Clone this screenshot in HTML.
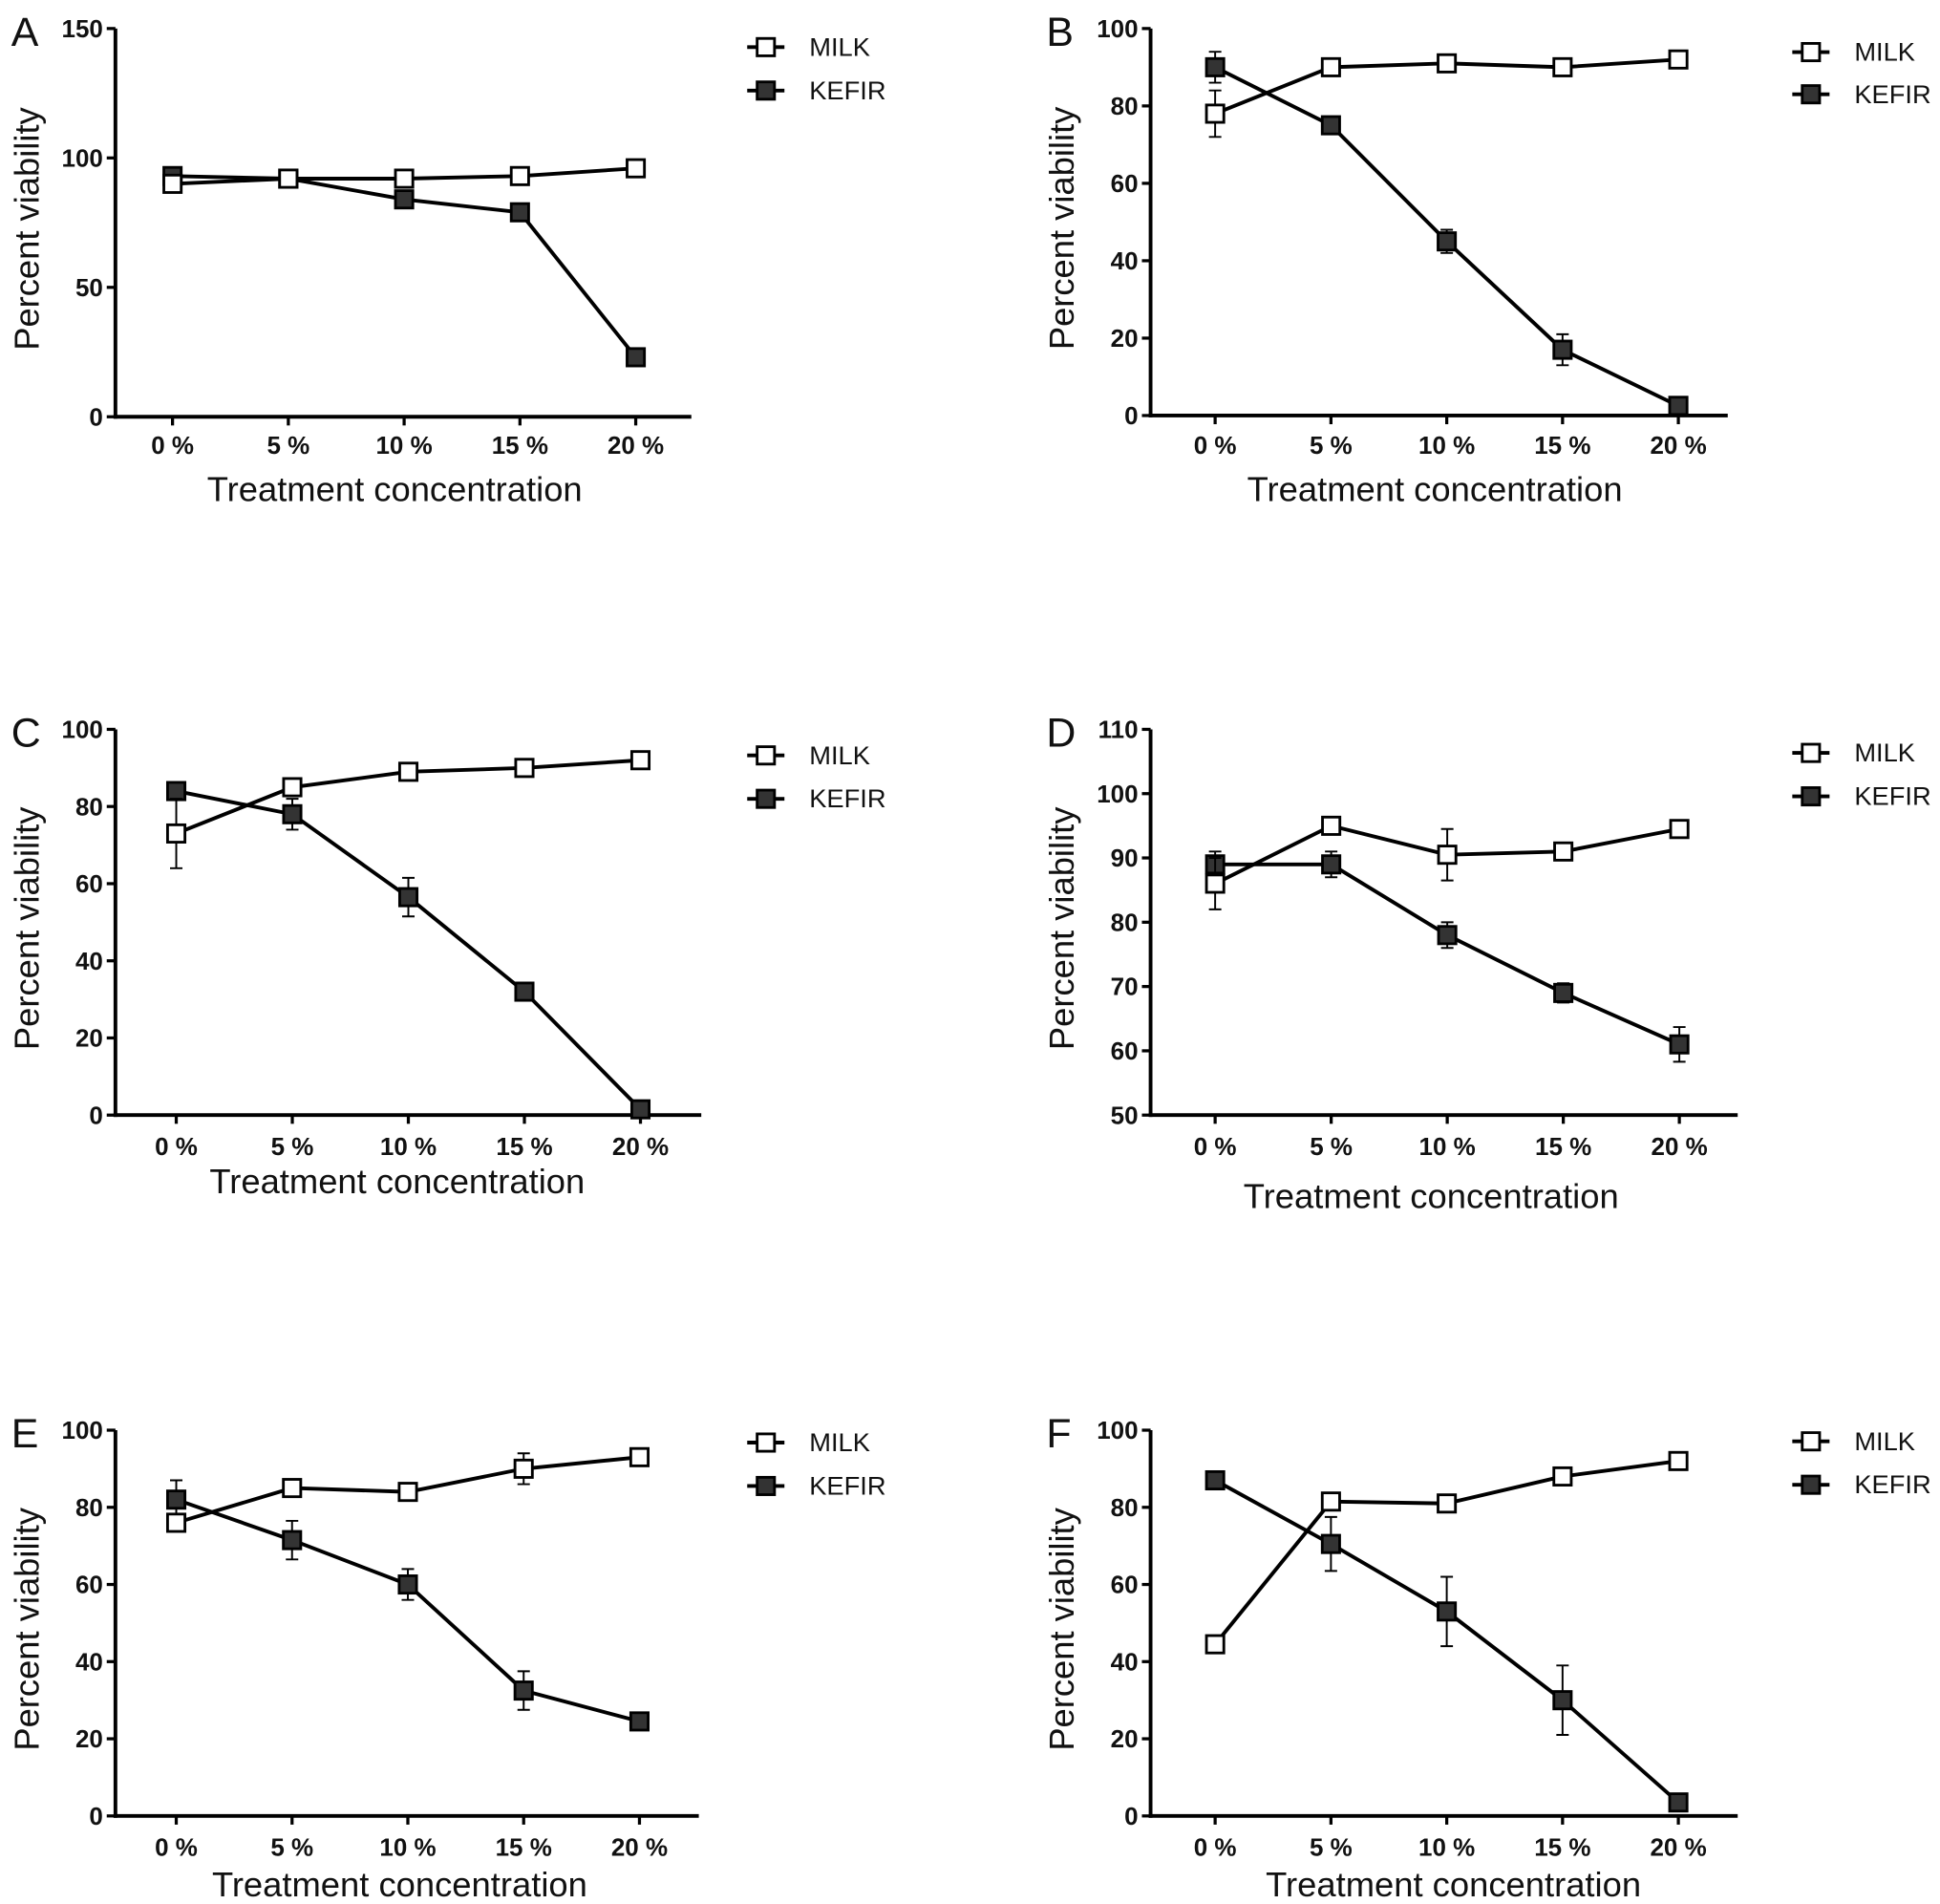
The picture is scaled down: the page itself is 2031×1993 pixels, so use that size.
<!DOCTYPE html>
<html><head><meta charset="utf-8"><style>
html,body{margin:0;padding:0;background:#fff}
svg{display:block}
text{font-family:"Liberation Sans",Arial,sans-serif;fill:#111}
</style></head><body>
<svg id="fig" width="2031" height="1993" viewBox="0 0 1563 1535" preserveAspectRatio="none" xmlns="http://www.w3.org/2000/svg"></svg>
<script>
const categories = ["0 %","5 %","10 %","15 %","20 %"];
const milkA = [90,92,92,93,96];      const milkErrA = [0,0,0,0,0];
const kefirA = [93,92,84,79,23];     const kefirErrA = [0,0,0,3,0];
const ticksA = [0,50,100,150];
const milkB = [78,90,91,90,92];      const milkErrB = [6,0,0,0,0];
const kefirB = [90,75,45,17,2.5];    const kefirErrB = [4,2,3,4,0];
const ticksB = [0,20,40,60,80,100];
const milkC = [73,85,89,90,92];      const milkErrC = [9,0,0,0,0];
const kefirC = [84,78,56.5,32,1.5];  const kefirErrC = [0,4,5,2,0];
const ticksC = [0,20,40,60,80,100];
const milkD = [86,95,90.5,91,94.5];  const milkErrD = [4,0,4,0,0];
const kefirD = [89,89,78,69,61];     const kefirErrD = [2,2,2,1.5,2.7];
const ticksD = [50,60,70,80,90,100,110];
const milkE = [76,85,84,90,93];      const milkErrE = [0,0,0,4,0];
const kefirE = [82,71.5,60,32.5,24.5]; const kefirErrE = [5,5,4,5,0];
const ticksE = [0,20,40,60,80,100];
const milkF = [44.5,81.5,81,88,92];  const milkErrF = [0,0,0,0,0];
const kefirF = [87,70.5,53,30,3.5];  const kefirErrF = [0,7,9,9,0];
const ticksF = [0,20,40,60,80,100];

const NS="http://www.w3.org/2000/svg";
const svg=document.getElementById('fig');
function mk(tag,attrs,parent){const e=document.createElementNS(NS,tag);for(const k in attrs)e.setAttribute(k,attrs[k]);(parent||svg).appendChild(e);return e;}

const panels=[
 {L:"A",ax:93,top:23,bot:336,right:557,x0:139,dx:93.3,lab:359,tit:395,tc:318,ly:[38,73],lx:617,milk:milkA,me:milkErrA,kef:kefirA,ke:kefirErrA,ticks:ticksA},
 {L:"B",ax:927,top:23,bot:335,right:1392,x0:979,dx:93.3,lab:359,tit:395,tc:1156,ly:[42,76],lx:1459,milk:milkB,me:milkErrB,kef:kefirB,ke:kefirErrB,ticks:ticksB},
 {L:"C",ax:93,top:588,bot:899,right:565,x0:142,dx:93.5,lab:924,tit:953,tc:320,ly:[609,644],lx:617,milk:milkC,me:milkErrC,kef:kefirC,ke:kefirErrC,ticks:ticksC},
 {L:"D",ax:927,top:588,bot:899,right:1400,x0:979,dx:93.5,lab:924,tit:965,tc:1153,ly:[607,642],lx:1459,milk:milkD,me:milkErrD,kef:kefirD,ke:kefirErrD,ticks:ticksD},
 {L:"E",ax:93,top:1153,bot:1464,right:563,x0:142,dx:93.3,lab:1489,tit:1520,tc:322,ly:[1163,1198],lx:617,milk:milkE,me:milkErrE,kef:kefirE,ke:kefirErrE,ticks:ticksE},
 {L:"F",ax:927,top:1153,bot:1464,right:1400,x0:979,dx:93.3,lab:1489,tit:1520,tc:1171,ly:[1162,1197],lx:1459,milk:milkF,me:milkErrF,kef:kefirF,ke:kefirErrF,ticks:ticksF}
];

panels.forEach(p=>{
 const g=mk('g',{});
 
 
 const ymin=p.ticks[0], ymax=p.ticks[p.ticks.length-1];
 const y=v=>p.bot-(v-ymin)/(ymax-ymin)*(p.bot-p.top);
 const x=i=>p.x0+i*p.dx;
 const lt=mk('text',{x:p.ax-84,y:p.top+14,'font-size':33},g); lt.textContent=p.L;
 
 
 const ya=mk('line',{x1:p.ax,y1:p.top,x2:p.ax,y2:p.bot+1.5,stroke:'#000','stroke-width':3},g);
 
 
 const xa=mk('line',{x1:p.ax-1.5,y1:p.bot,x2:p.right,y2:p.bot,stroke:'#000','stroke-width':3},g);
 
 
 p.ticks.forEach(t=>{
  mk('line',{x1:p.ax-7,y1:y(t),x2:p.ax,y2:y(t),stroke:'#000','stroke-width':2.5},g);
  const tl=mk('text',{x:p.ax-10,y:y(t)+7,'font-size':20,'font-weight':'bold','text-anchor':'end'},g); tl.textContent=t;
  
  
 });
 categories.forEach((c,i)=>{
  mk('line',{x1:x(i),y1:p.bot,x2:x(i),y2:p.bot+7,stroke:'#000','stroke-width':2.5},g);
  const tl=mk('text',{x:x(i),y:p.lab+7,'font-size':20,'font-weight':'bold','text-anchor':'middle'},g); tl.textContent=c;
  
  
 });
 const xt=mk('text',{x:p.tc,y:p.tit+9,'font-size':28,'text-anchor':'middle'},g); xt.textContent='Treatment concentration';
 
 
 const cy=(p.top+p.bot)/2+5;
 const yt=mk('text',{x:p.ax-62,y:cy,'font-size':28,'text-anchor':'middle',transform:`rotate(-90 ${p.ax-62} ${cy})`},g); yt.textContent='Percent viability';
 
 
 [[p.kef,p.ke,'#333','kefir'],[p.milk,p.me,'#fff','milk']].forEach(([vals,errs,fill,nm])=>{
  const sg=mk('g',{},g);
  
  
  const pl=mk('polyline',{points:vals.map((v,i)=>x(i)+','+y(v)).join(' '),fill:'none',stroke:'#000','stroke-width':3},sg);
  
  
  vals.forEach((v,i)=>{
   if(errs[i]>0){
    const e=mk('path',{d:`M${x(i)},${y(v+errs[i])}V${y(v-errs[i])}M${x(i)-5},${y(v+errs[i])}h10M${x(i)-5},${y(v-errs[i])}h10`,stroke:'#000','stroke-width':1.5,fill:'none'},sg);
    
    
   }
   const r=mk('rect',{x:x(i)-7,y:y(v)-7,width:14,height:14,fill:fill,stroke:'#000','stroke-width':2.2},sg);
   
   
  });
 });
 [['MILK','#fff',p.ly[0]],['KEFIR','#333',p.ly[1]]].forEach(([n,f,ly])=>{
  const lg=mk('g',{},g);
  
  
  mk('line',{x1:p.lx-15,y1:ly,x2:p.lx+15,y2:ly,stroke:'#000','stroke-width':3},lg);
  mk('rect',{x:p.lx-7,y:ly-7,width:14,height:14,fill:f,stroke:'#000','stroke-width':2.2},lg);
  const t=mk('text',{x:p.lx+35,y:ly+7,'font-size':21},lg); t.textContent=n;
 });
});
</script>
</body></html>
